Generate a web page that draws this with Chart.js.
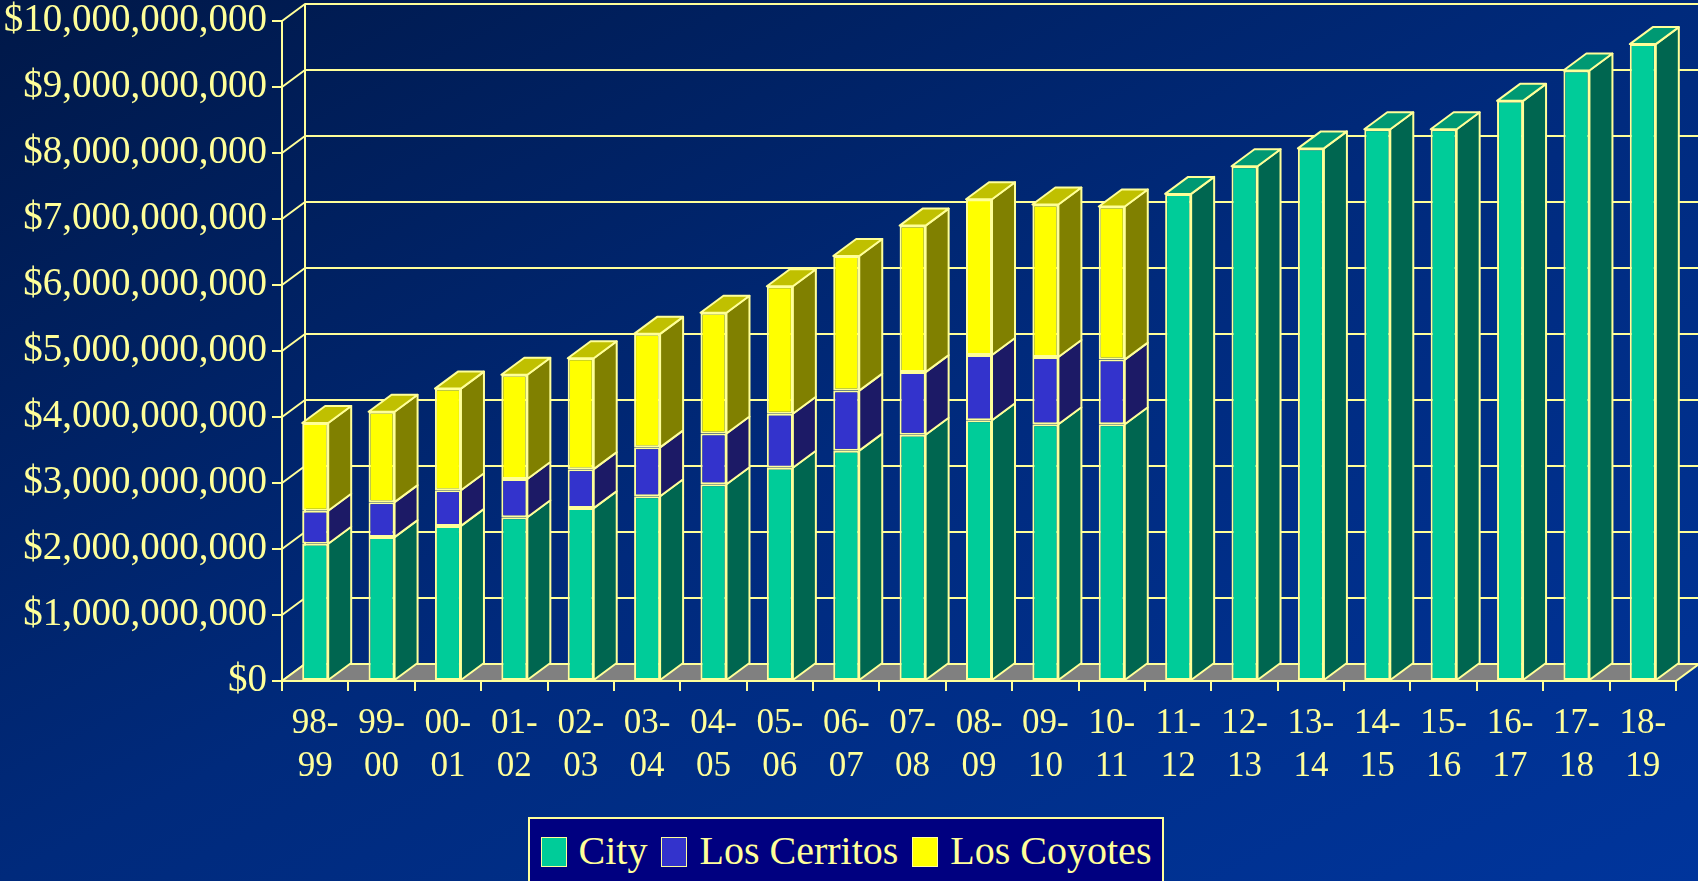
<!DOCTYPE html>
<html>
<head>
<meta charset="utf-8">
<title>Assessed Valuation</title>
<script src="https://cdn.jsdelivr.net/npm/chart.js@4.4.1/dist/chart.umd.min.js"></script>
<style>
    html, body { margin: 0; padding: 0; }
    body {
        width: 1698px; height: 881px; overflow: hidden;
        background: linear-gradient(to bottom right, #001848 0%, #002a7c 50%, #00359c 100%);
    }
    #wrap { position: relative; width: 1698px; height: 881px; }
    #legend {
        position: absolute; left: 528px; top: 817px; width: 632px; height: 62px;
        background: #000080; border: 2px solid #ffff99;
        display: flex; align-items: center; justify-content: center;
        font-family: 'Liberation Serif', 'Times New Roman', serif; font-size: 40px; color: #ffff99;
    }
    #legend .item { display: flex; align-items: center; margin: 0 7px; }
    #legend .swatch { width: 24px; height: 28px; border: 1px solid #ffff99; margin-right: 12px; position: relative; top: 2px; }
</style>
</head>
<body>
<div id="wrap">
    <canvas id="chart"></canvas>
    <div id="legend"></div>
</div>
<script>
// fiscal years on the x axis
const fiscalYears = ['98-99', '99-00', '00-01', '01-02', '02-03', '03-04', '04-05', '05-06', '06-07', '07-08',
    '08-09', '09-10', '10-11', '11-12', '12-13', '13-14', '14-15', '15-16', '16-17', '17-18', '18-19']

// values in billions of dollars (stacked segments)
const city = [2.08, 2.18, 2.35, 2.48, 2.62, 2.80, 2.98, 3.23, 3.49, 3.73, 3.95, 3.89, 3.89,
    7.38, 7.80, 8.07, 8.36, 8.36, 8.79, 9.25, 9.65]
const losCerritos = [0.50, 0.53, 0.54, 0.58, 0.59, 0.74, 0.77, 0.82, 0.91, 0.95, 0.99, 1.02, 0.98,
    null, null, null, null, null, null, null, null]
const losCoyotes = [1.33, 1.37, 1.54, 1.58, 1.68, 1.72, 1.83, 1.93, 2.04, 2.22, 2.36, 2.31, 2.32,
    null, null, null, null, null, null, null, null]

const yTicks = [0, 1, 2, 3, 4, 5, 6, 7, 8, 9, 10]

const lineColor = '#ffff99'
const fontFamily = "'Liberation Serif', 'Times New Roman', serif"
const depth = { x: 23, y: -17 }

const seriesStyle = [
    { label: 'City', front: '#00cc99', side: '#006650', top: '#009973' },
    { label: 'Los Cerritos', front: '#3333cc', side: '#1c1a66', top: '#26269a' },
    { label: 'Los Coyotes', front: '#ffff00', side: '#808000', top: '#c0c000' }
]
const seriesData = [city, losCerritos, losCoyotes]

function face(ctx, pts, fill) {
    ctx.beginPath()
    ctx.moveTo(pts[0][0], pts[0][1])
    for (let k = 1; k < pts.length; k++) ctx.lineTo(pts[k][0], pts[k][1])
    ctx.closePath()
    ctx.fillStyle = fill
    ctx.fill()
    ctx.stroke()
}

// back wall, floor, and side/top faces of the bars
const fake3d = {
    id: 'fake3d',
    beforeDatasetsDraw(chart) {
        const { ctx, chartArea: { left, right, bottom }, scales: { y } } = chart
        const dx = depth.x, dy = depth.y
        ctx.save()
        ctx.strokeStyle = lineColor
        ctx.lineWidth = 2
        ctx.lineJoin = 'round'

        // wall grid
        const yTop = y.getPixelForValue(y.max)
        ctx.beginPath()
        ctx.moveTo(left + dx, yTop + dy)
        ctx.lineTo(left + dx, bottom + dy)
        y.ticks.forEach(t => {
            const py = y.getPixelForValue(t.value)
            ctx.moveTo(left, py)
            ctx.lineTo(left + dx, py + dy)
            ctx.lineTo(right + dx, py + dy)
        })
        ctx.stroke()

        // floor
        face(ctx, [[left, bottom], [right, bottom], [right + dx, bottom + dy], [left + dx, bottom + dy]], '#808080')

        // bar faces
        const topSeries = fiscalYears.map((_, i) => {
            let last = -1
            chart.data.datasets.forEach((ds, di) => { if (ds.data[i] != null) last = di })
            return last
        })
        chart.data.datasets.forEach((ds, di) => {
            const meta = chart.getDatasetMeta(di)
            meta.data.forEach((bar, i) => {
                if (ds.data[i] == null) return
                const p = bar.getProps(['x', 'y', 'base', 'width'], true)
                const l = p.x - p.width / 2, r = p.x + p.width / 2
                face(ctx, [[r, p.y], [r + dx, p.y + dy], [r + dx, p.base + dy], [r, p.base]], seriesStyle[di].side)
                if (topSeries[i] === di) {
                    face(ctx, [[l, p.y], [r, p.y], [r + dx, p.y + dy], [l + dx, p.y + dy]], seriesStyle[di].top)
                }
            })
        })
        ctx.restore()
    }
}

const datasets = seriesStyle.map((s, i) => ({
    label: s.label,
    data: seriesData[i],
    backgroundColor: s.front,
    borderColor: lineColor,
    borderWidth: 2,
    borderSkipped: false,
    categoryPercentage: 1,
    barPercentage: 0.392
}))

new Chart(document.getElementById('chart').getContext('2d'), {
    type: 'bar',
    data: {
        labels: fiscalYears.map(s => { const [a, b] = s.split('-'); return [a + '-', b] }),
        datasets
    },
    options: {
        responsive: true,
        maintainAspectRatio: false,
        animation: false,
        layout: { padding: { left: 0, right: 22, top: 21, bottom: 90 } },
        plugins: {
            legend: { display: false },
            tooltip: { enabled: false }
        },
        scales: {
            x: {
                stacked: true,
                grid: { drawOnChartArea: false, color: lineColor, lineWidth: 2, tickLength: 10 },
                border: { display: true, color: lineColor, width: 2 },
                ticks: {
                    color: lineColor, padding: 11, maxRotation: 0, autoSkip: false,
                    font: { family: fontFamily, size: 35, lineHeight: 1.23 }
                },
                afterFit: scale => { scale.height = 110 }
            },
            y: {
                stacked: true,
                min: 0,
                max: 10,
                afterBuildTicks: scale => { scale.ticks = yTicks.map(v => ({ value: v })) },
                grid: { drawOnChartArea: false, color: lineColor, lineWidth: 2, tickLength: 10 },
                border: { display: true, color: lineColor, width: 2 },
                ticks: {
                    color: lineColor, padding: 5,
                    font: { family: fontFamily, size: 39, lineHeight: 0.8 },
                    callback: v => '$' + (v * 1e9).toLocaleString('en-US')
                },
                afterFit: scale => { scale.width = 282 }
            }
        }
    },
    plugins: [fake3d]
})

// legend box
const legend = document.getElementById('legend')
seriesStyle.forEach(s => {
    const item = document.createElement('div')
    item.className = 'item'
    const sw = document.createElement('span')
    sw.className = 'swatch'
    sw.style.background = s.front
    const txt = document.createElement('span')
    txt.textContent = s.label
    item.appendChild(sw)
    item.appendChild(txt)
    legend.appendChild(item)
})
</script>
</body>
</html>
